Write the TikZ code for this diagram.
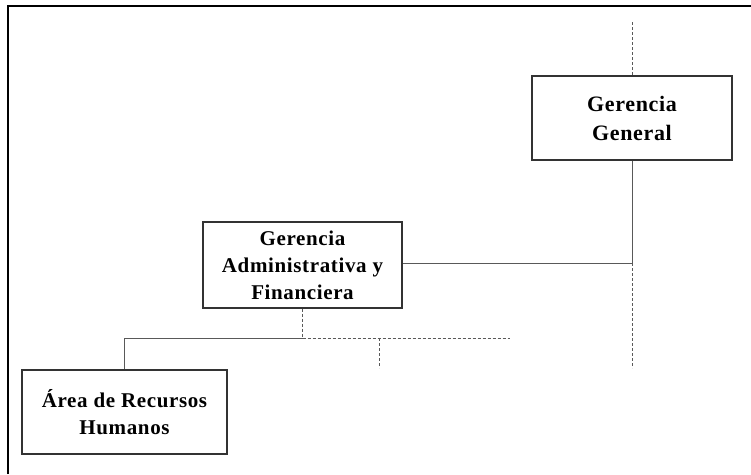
\documentclass[tikz,border=0pt]{standalone}
\usepackage{fontspec}
\setmainfont{Liberation Serif}[LetterSpace=3]
\begin{document}
\begin{tikzpicture}[x=1pt,y=-1pt,
  frame/.style={line width=2pt,black},
  unit/.style={draw=black!80,line width=1.4pt,fill=white,align=center,
    font=\fontsize{21}{27}\selectfont\bfseries,inner sep=0pt},
  link/.style={draw=black!65,line width=1pt},
  dotlink/.style={link,dash pattern=on 3pt off 2pt}]
\useasboundingbox (0,0) rectangle (751,474);
% page frame
\draw[frame] (8,474) -- (8,6) -- (751,6);
% units
\node[unit,minimum width=200pt,minimum height=84pt,
  font=\fontsize{22}{29}\selectfont\bfseries] (gg) at (632,118) {Gerencia\\General};
\node[unit,minimum width=199pt,minimum height=86pt] (gaf) at (302.5,265) {Gerencia\\Administrativa y\\Financiera};
\node[unit,minimum width=205pt,minimum height=84pt] (rh) at (124.5,412) {Área de Recursos\\Humanos};
% connection points
\coordinate (ggtop) at (632,22);
\coordinate (junc) at (632,263);
\coordinate (ggbot) at (632,368);
\coordinate (split) at (302.5,338);
\coordinate (branchend) at (510,338);
\coordinate (branch) at (379,338);
\coordinate (branchbot) at (379,368);
% lines
\draw[dotlink] (ggtop) -- (gg.north);
\draw[link] (gg.south) -- (junc);
\draw[dotlink] (junc) -- (ggbot);
\draw[link] (junc -| gaf.east) -- (junc);
\draw[dotlink] (gaf.south) -- (split);
\draw[link] (split) -| (rh.north);
\draw[dotlink] (split) -- (branchend);
\draw[dotlink] (branch) -- (branchbot);
\end{tikzpicture}
\end{document}
